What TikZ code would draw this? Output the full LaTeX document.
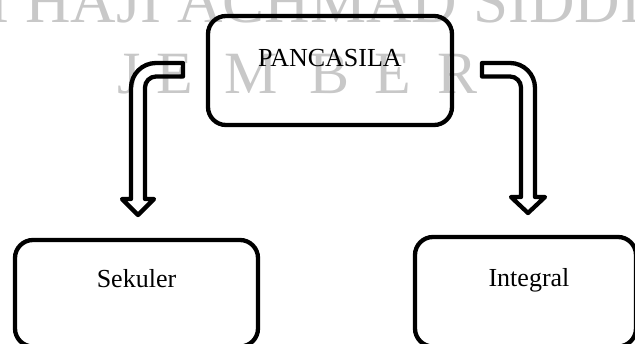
\documentclass[tikz,border=0pt]{standalone}
\usepackage{fontspec}
\setmainfont{Liberation Serif}
\definecolor{wmgray}{RGB}{200,200,200}
\tikzset{
  box/.style={draw=black, line width=4.3pt, rounded corners=18pt, inner sep=0pt,
    font=\fontsize{26}{30}\selectfont, text height=18pt},
  wm/.style={text=wmgray, inner sep=0pt, anchor=base west},
  blockarrow/.style={draw=black, line width=4.3pt, line join=round}
}
\begin{document}
\begin{tikzpicture}[x=1pt,y=-1pt]
\useasboundingbox (0,0) rectangle (635,343);
\clip (0,0) rectangle (635,343);
% watermark
\node[wm, font=\fontsize{63}{70}\selectfont] (wmtop) at (-11.7,22) {I HAJI ACHMAD SIDDIQ};
\begin{scope}[every node/.style={wm, font=\fontsize{60}{66}\selectfont}]
\node (wmJ) at (117,93) {J};
\node (wmE1) at (156,93) {E};
\node (wmM) at (224,93) {M};
\node (wmB) at (309,93) {B};
\node (wmE2) at (374,93) {E};
\node (wmR) at (437,93) {R};
\end{scope}
% boxes
\node[box, minimum width=244pt, minimum height=109pt, text depth=27pt] (pancasila) at (330,70.5) {PANCASILA};
\node[box, minimum width=243pt, minimum height=106.5pt, text depth=30.5pt] (sekuler) at (136.5,293.25) {Sekuler};
\node[box, minimum width=221pt, minimum height=109.5pt, text depth=29.5pt] (integral) at (525.5,291.75) {\hspace*{7pt}Integral};
% block arrows
\coordinate (ltip) at (138,215);
\coordinate (rtip) at (528,213);
\draw[blockarrow] (183,63) -- (156,63) .. controls (142.2,63) and (131,74.2) .. (131,88)
  -- (131,199) -- (122,199) -- (ltip) -- (154,199) -- (145,199) -- (145,87.5)
  .. controls (145,81.4) and (149.9,76.5) .. (156,76.5) -- (183,76.5) -- cycle;
\draw[blockarrow] (482,63) -- (510,63) .. controls (523.8,63) and (535,74.2) .. (535,88)
  -- (535,197) -- (545,197) -- (rtip) -- (511,197) -- (521,197) -- (521,87.5)
  .. controls (521,81.4) and (516.1,76.5) .. (510,76.5) -- (482,76.5) -- cycle;
\end{tikzpicture}
\end{document}
